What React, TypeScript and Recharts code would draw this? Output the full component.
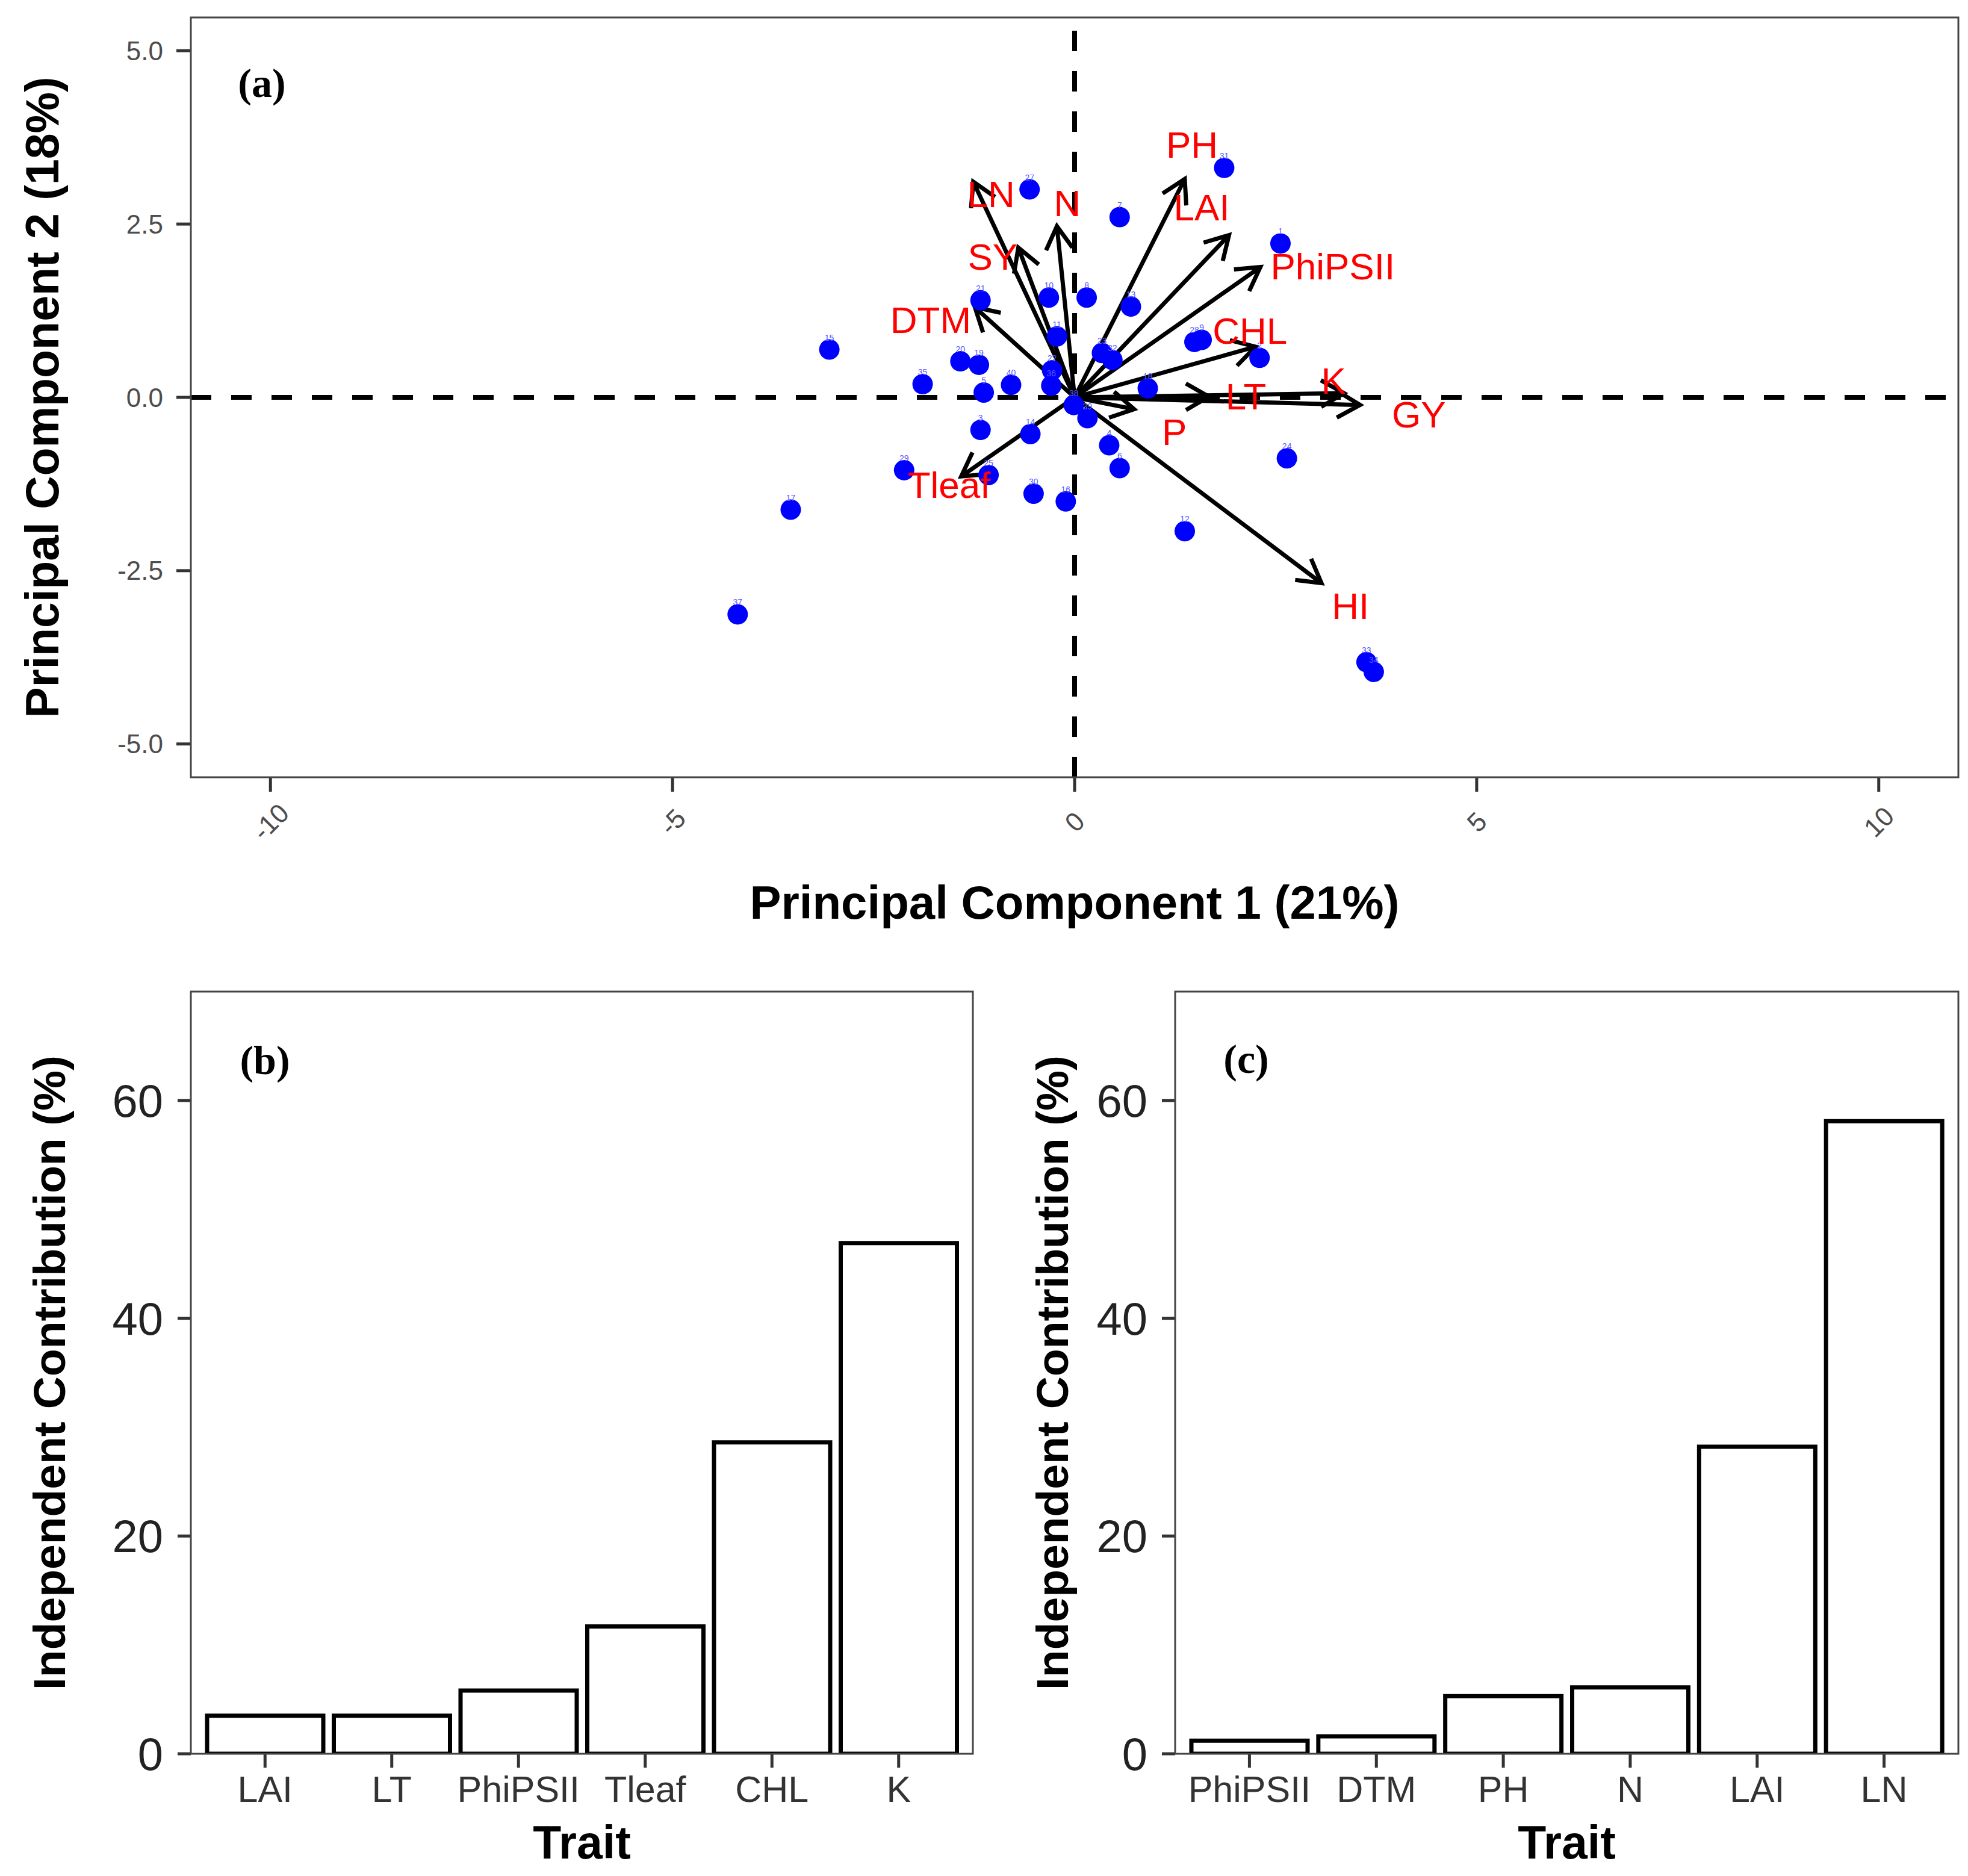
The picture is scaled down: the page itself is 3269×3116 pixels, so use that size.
import React from "react";
import {
  ScatterChart, Scatter, XAxis, YAxis, ReferenceLine,
  BarChart, Bar,
} from "recharts";

// ---- panel (a): PCA biplot ----
const genotypeIds = [31, 27, 7, 1, 21, 10, 8, 13, 11, 15, 28, 9, 2, 23, 32, 20, 19, 35, 5, 40, 22, 36, 18, 38, 39, 3, 14, 4, 6, 24, 29, 25, 30, 16, 17, 12, 37, 33, 34];
const pc1Scores = [1.86, -0.56, 0.56, 2.56, -1.17, -0.32, 0.15, 0.70, -0.22, -3.05, 1.49, 1.58, 2.30, 0.34, 0.47, -1.42, -1.19, -1.89, -1.13, -0.79, -0.28, -0.29, 0.91, -0.01, 0.16, -1.17, -0.55, 0.43, 0.56, 2.64, -2.12, -1.07, -0.51, -0.11, -3.53, 1.37, -4.19, 3.63, 3.72];
const pc2Scores = [3.31, 3.00, 2.60, 2.22, 1.40, 1.44, 1.44, 1.31, 0.88, 0.69, 0.80, 0.83, 0.57, 0.64, 0.54, 0.52, 0.47, 0.19, 0.07, 0.18, 0.39, 0.17, 0.13, -0.11, -0.30, -0.47, -0.53, -0.69, -1.02, -0.88, -1.05, -1.12, -1.39, -1.50, -1.62, -1.93, -3.13, -3.82, -3.96];

const traitNames = ["PH", "LN", "N", "LAI", "SY", "PhiPSII", "DTM", "CHL", "K", "GY", "LT", "P", "HI", "Tleaf"];
const loadingPC1 = [1.37, -1.26, -0.22, 1.92, -0.70, 2.31, -1.24, 2.25, 3.35, 3.55, 1.67, 0.74, 3.07, -1.41];
const loadingPC2 = [3.15, 3.11, 2.47, 2.34, 2.16, 1.88, 1.30, 0.73, 0.06, -0.11, 0.01, -0.17, -2.68, -1.14];
const labelPC1 = [1.46, -1.04, -0.09, 1.58, -1.02, 3.21, -1.79, 2.18, 3.22, 4.28, 2.13, 1.24, 3.43, -1.56];
const labelPC2 = [3.64, 2.93, 2.80, 2.74, 2.03, 1.89, 1.12, 0.96, 0.24, -0.25, 0.01, -0.50, -3.01, -1.26];

const pc1Ticks = [-10, -5, 0, 5, 10];
const pc2Ticks = [-5, -2.5, 0, 2.5, 5];

// ---- panels (b) and (c): independent contribution ----
const traitsB = ["LAI", "LT", "PhiPSII", "Tleaf", "CHL", "K"];
const contributionB = [3.5, 3.5, 5.8, 11.7, 28.6, 46.9];
const traitsC = ["PhiPSII", "DTM", "PH", "N", "LAI", "LN"];
const contributionC = [1.2, 1.6, 5.3, 6.1, 28.2, 58.1];
const contributionTicks = [0, 20, 40, 60];

const scores = genotypeIds.map((id, i) => ({ id, x: pc1Scores[i], y: pc2Scores[i] }));
const arrows = traitNames.map((name, i) => ({ name, x: loadingPC1[i], y: loadingPC2[i] }));
const arrowLabels = traitNames.map((name, i) => ({ name, x: labelPC1[i], y: labelPC2[i] }));
const barsB = traitsB.map((trait, i) => ({ trait, value: contributionB[i] }));
const barsC = traitsC.map((trait, i) => ({ trait, value: contributionC[i] }));

// layout (page pixels)
const A = { left: 317, right: 3253, top: 29, bottom: 1291 };
const B = { left: 317, right: 1616, top: 1647, bottom: 2913 };
const C = { left: 1952, right: 3253, top: 1647, bottom: 2913 };

const Arrow = (props: any) => {
  const { x1, y1, x2, y2 } = props;
  const ang = Math.atan2(y2 - y1, x2 - x1);
  const len = 44;
  const a = Math.PI / 6;
  const hx1 = x2 - len * Math.cos(ang - a);
  const hy1 = y2 - len * Math.sin(ang - a);
  const hx2 = x2 - len * Math.cos(ang + a);
  const hy2 = y2 - len * Math.sin(ang + a);
  return (
    <path
      d={`M${x1},${y1}L${x2},${y2}M${hx1},${hy1}L${x2},${y2}L${hx2},${hy2}`}
      fill="none" stroke="#000" strokeWidth={7}
    />
  );
};

const ScorePoint = (props: any) => (
  <g>
    <circle cx={props.cx} cy={props.cy} r={17} fill="#0000ff" />
    <text x={props.cx} y={props.cy - 20} textAnchor="middle" dominantBaseline="central" fontSize={14} fill="#5a5aff">
      {props.payload.id}
    </text>
  </g>
);

const TraitLabel = (props: any) => (
  <text x={props.cx} y={props.cy} textAnchor="middle" dominantBaseline="central" fontSize={62} fill="#ff0000">
    {props.payload.name}
  </text>
);

const RotatedTick = (props: any) => {
  const { x, y, payload } = props;
  const cy = y + 50;
  return (
    <text x={x} y={cy} transform={`rotate(-45 ${x} ${cy})`} textAnchor="middle" dominantBaseline="central" fontSize={44} fill="#4d4d4d">
      {payload.value}
    </text>
  );
};

const tickLine = { stroke: "#333", strokeWidth: 5 };

function ContributionChart({ data, left, width, marginRight }: any) {
  return (
    <div style={{ position: "absolute", left, top: 1600 }}>
      <BarChart width={width} height={1516} data={data} margin={{ top: 47, right: marginRight, left: 0, bottom: 0 }} barCategoryGap={9}>
        <XAxis
          dataKey="trait" height={203} padding={{ left: 18, right: 18 }} interval={0}
          tickSize={23} tickMargin={14} axisLine={false} tickLine={tickLine}
          tick={{ fontSize: 61, fill: "#333" }}
        />
        <YAxis
          type="number" domain={[0, 70]} ticks={contributionTicks} width={317} allowDataOverflow
          tickSize={22} tickMargin={24} axisLine={false} tickLine={tickLine}
          tick={{ fontSize: 76, fill: "#222" }}
        />
        <Bar dataKey="value" fill="#fff" stroke="#000" strokeWidth={7} isAnimationActive={false} />
      </BarChart>
    </div>
  );
}

export default function App() {
  return (
    <div style={{ position: "absolute", left: 0, top: 0, width: 3269, height: 3116, background: "#fff", fontFamily: "'Liberation Sans', Arial, sans-serif" }}>
      <div style={{ position: "absolute", left: 0, top: 0 }}>
        <ScatterChart width={3269} height={1600} margin={{ top: A.top, right: 3269 - A.right, left: 0, bottom: 0 }}>
          <XAxis
            type="number" dataKey="x" domain={[-10.99, 10.99]} ticks={pc1Ticks} allowDataOverflow
            height={1600 - A.bottom} tickSize={24} tickMargin={0} axisLine={false} tickLine={tickLine}
            tick={<RotatedTick />}
          />
          <YAxis
            type="number" dataKey="y" domain={[-5.48, 5.48]} ticks={pc2Ticks} allowDataOverflow
            width={A.left} tickSize={24} tickMargin={22} axisLine={false} tickLine={tickLine}
            tickFormatter={(v: number) => v.toFixed(1)}
            tick={{ fontSize: 44, fill: "#4d4d4d" }}
          />
          <ReferenceLine x={0} stroke="#000" strokeWidth={8} strokeDasharray="34 33" />
          <ReferenceLine y={0} stroke="#000" strokeWidth={8} strokeDasharray="34 33" />
          <Scatter data={scores} shape={ScorePoint} isAnimationActive={false} />
          {arrows.map((a) => (
            <ReferenceLine key={a.name} segment={[{ x: 0, y: 0 }, { x: a.x, y: a.y }]} shape={Arrow} />
          ))}
          <Scatter data={arrowLabels} shape={TraitLabel} isAnimationActive={false} />
        </ScatterChart>
      </div>

      <ContributionChart data={barsB} left={0} width={1640} marginRight={1640 - B.right} />
      <ContributionChart data={barsC} left={1635} width={1634} marginRight={3269 - C.right} />

      <svg width={3269} height={3116} style={{ position: "absolute", left: 0, top: 0, pointerEvents: "none" }}>
        {[A, B, C].map((p, i) => (
          <rect key={i} x={p.left} y={p.top} width={p.right - p.left} height={p.bottom - p.top} fill="none" stroke="#444" strokeWidth={3} />
        ))}
        <g fontWeight="bold" fill="#000" textAnchor="middle">
          <text x={(A.left + A.right) / 2} y={1526} fontSize={78}>Principal Component 1 (21%)</text>
          <text x={97} y={(A.top + A.bottom) / 2} fontSize={77} transform={`rotate(-90 97 ${(A.top + A.bottom) / 2})`}>Principal Component 2 (18%)</text>
          <text x={(B.left + B.right) / 2} y={3087} fontSize={77}>Trait</text>
          <text x={(C.left + C.right) / 2} y={3087} fontSize={77}>Trait</text>
          <text x={108} y={(B.top + B.bottom) / 2} fontSize={75} transform={`rotate(-90 108 ${(B.top + B.bottom) / 2})`}>Independent Contribution (%)</text>
          <text x={1774} y={(C.top + C.bottom) / 2} fontSize={75} transform={`rotate(-90 1774 ${(C.top + C.bottom) / 2})`}>Independent Contribution (%)</text>
        </g>
        <g fontWeight="bold" fill="#000" textAnchor="middle" fontFamily="'Liberation Serif', 'Times New Roman', serif" fontSize={68}>
          <text x={435} y={161}>(a)</text>
          <text x={440} y={1784}>(b)</text>
          <text x={2070} y={1782}>(c)</text>
        </g>
      </svg>
    </div>
  );
}
